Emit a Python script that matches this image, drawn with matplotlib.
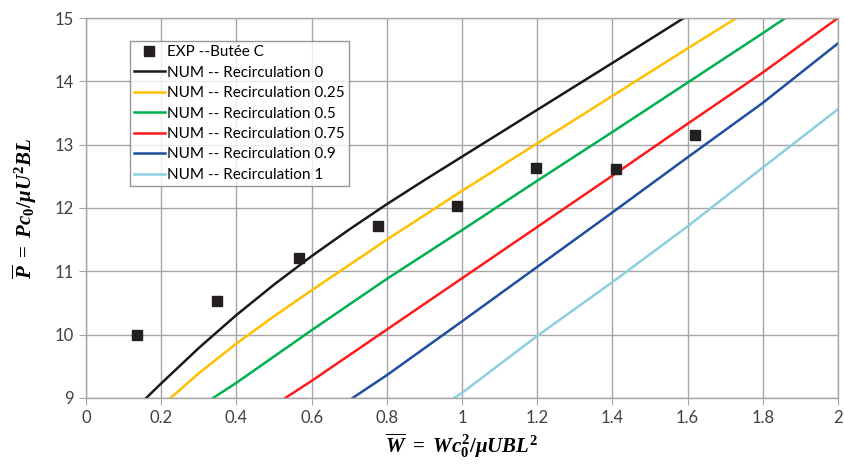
import matplotlib
matplotlib.use('Agg')
import matplotlib.pyplot as plt

plt.rcParams['font.family'] = ['Lato', 'DejaVu Sans']
plt.rcParams['mathtext.fontset'] = 'custom'
plt.rcParams['mathtext.it'] = 'Liberation Serif:italic:bold'
plt.rcParams['mathtext.rm'] = 'Liberation Serif:bold'
plt.rcParams['mathtext.bf'] = 'Liberation Serif:bold'

# experimental points
exp_x = [0.136, 0.348, 0.566, 0.777, 0.987, 1.197, 1.41, 1.62]
exp_y = [10.0, 10.53, 11.21, 11.72, 12.03, 12.63, 12.62, 13.15]

# numerical curves
x_r0 = [0.16, 0.2, 0.3, 0.4, 0.5, 0.6, 0.7, 0.8, 0.9, 1.0, 1.2, 1.4, 1.59]
y_r0 = [9.0, 9.23, 9.79, 10.31, 10.79, 11.24, 11.66, 12.06, 12.44, 12.81, 13.55, 14.29, 15.0]

x_r025 = [0.225, 0.3, 0.4, 0.5, 0.6, 0.7, 0.8, 1.0, 1.2, 1.4, 1.6, 1.73]
y_r025 = [9.0, 9.39, 9.86, 10.29, 10.7, 11.1, 11.5, 12.27, 13.02, 13.77, 14.52, 15.0]

x_r05 = [0.338, 0.4, 0.6, 0.8, 1.0, 1.2, 1.4, 1.6, 1.8, 1.86]
y_r05 = [9.0, 9.24, 10.07, 10.88, 11.65, 12.43, 13.2, 13.98, 14.76, 15.0]

x_r075 = [0.53, 0.6, 0.8, 1.0, 1.2, 1.4, 1.6, 1.8, 2.0]
y_r075 = [9.0, 9.27, 10.08, 10.89, 11.7, 12.51, 13.33, 14.14, 15.0]

x_r09 = [0.709, 0.8, 1.0, 1.2, 1.4, 1.6, 1.8, 2.0]
y_r09 = [9.0, 9.36, 10.21, 11.07, 11.93, 12.8, 13.66, 14.6]

x_r1 = [0.979, 1.0, 1.2, 1.4, 1.6, 1.8, 2.0]
y_r1 = [9.0, 9.08, 9.98, 10.83, 11.71, 12.64, 13.56]

fig = plt.figure(figsize=(8.44, 4.70), dpi=100)
ax = fig.add_axes([0.1019, 0.1532, 0.8910, 0.8085])

ax.plot(exp_x, exp_y, 's', color='#231f20', markersize=7, label='EXP --Butée C', zorder=5)
ax.plot(x_r0, y_r0, color='#1a1a1a', lw=1.8, label='NUM -- Recirculation 0')
ax.plot(x_r025, y_r025, color='#ffc000', lw=1.8, label='NUM -- Recirculation 0.25')
ax.plot(x_r05, y_r05, color='#00b050', lw=1.8, label='NUM -- Recirculation 0.5')
ax.plot(x_r075, y_r075, color='#ff1a1a', lw=1.8, label='NUM -- Recirculation 0.75')
ax.plot(x_r09, y_r09, color='#1f4e9c', lw=1.8, label='NUM -- Recirculation 0.9')
ax.plot(x_r1, y_r1, color='#8ccfde', lw=1.8, label='NUM -- Recirculation 1')

ax.set_xlim(0, 2)
ax.set_ylim(9, 15)
ax.set_xticks([0, 0.2, 0.4, 0.6, 0.8, 1, 1.2, 1.4, 1.6, 1.8, 2])
ax.set_xticklabels(['0', '0.2', '0.4', '0.6', '0.8', '1', '1.2', '1.4', '1.6', '1.8', '2'])
ax.set_yticks([9, 10, 11, 12, 13, 14, 15])
ax.grid(True, color='#a6a6a6', lw=1)
ax.set_axisbelow(True)
for s in ax.spines.values():
    s.set_color('#a6a6a6')
    s.set_linewidth(1)
ax.tick_params(colors='#a6a6a6', labelcolor='#404040', labelsize=12, length=5)

ax.set_xlabel(r'$\overline{W}\ =\ Wc_0^2/\mu UBL^2$', fontsize=15, labelpad=4)
ax.set_ylabel(r'$\overline{P}\ =\ Pc_0/\mu U^2BL$', fontsize=15)
ax.yaxis.set_label_coords(-0.062, 0.5)

leg = ax.legend(loc='upper left', bbox_to_anchor=(0.058, 0.94), fontsize=11,
                frameon=True, fancybox=False, edgecolor='#7f7f7f',
                handlelength=2.0, handletextpad=0.15, borderpad=0.3,
                labelspacing=0.42, borderaxespad=0)
leg.get_frame().set_linewidth(1)

plt.savefig('out.png', dpi=100)
